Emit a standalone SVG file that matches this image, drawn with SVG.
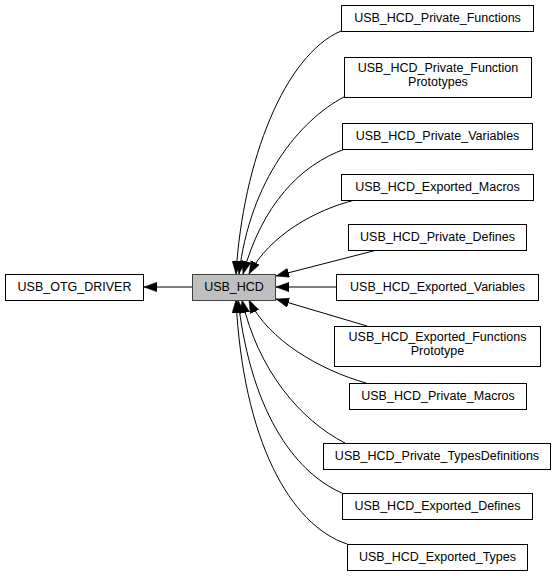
<svg xmlns="http://www.w3.org/2000/svg" width="559" height="576" viewBox="0 0 559 576">
<style>
  rect { fill: #ffffff; stroke: #000000; stroke-width: 1; }
  .cur rect { fill: #bfbfbf; stroke: #404040; }
  text { font-family: "Liberation Sans", Arial, sans-serif; font-size: 12.5px; fill: #000000; text-anchor: middle; }
  .edges path { fill: none; stroke: #000000; stroke-width: 1; marker-end: url(#arrow); }
</style>
<defs>
  <marker id="arrow" markerUnits="userSpaceOnUse" markerWidth="14" markerHeight="10" refX="13" refY="4.7" orient="auto">
    <path d="M0,0 L13,4.7 L0,9.4 z" fill="#000000" stroke="#000000" stroke-width="0.5"/>
  </marker>
</defs>
<rect x="0" y="0" width="559" height="576" style="fill:#ffffff;stroke:none"/>
<g id="edges" class="edges">
  <path d="M192,287 L144,287"/>
  <path d="M341,31 C285,55 243,160 236,274"/>
  <path d="M344,97 C300,120 250,180 239,274"/>
  <path d="M345,149 C300,165 262,205 243,274"/>
  <path d="M355,200 C315,210 270,235 249,274"/>
  <path d="M377,250 L276,276"/>
  <path d="M336,287 L276,287"/>
  <path d="M367,326 L276,299"/>
  <path d="M366,383 C320,370 268,340 249,300"/>
  <path d="M345,443 C300,420 258,370 242,300"/>
  <path d="M342,493 C300,475 252,420 238,300"/>
  <path d="M347,544 C290,525 243,440 236,300"/>
</g>
<g id="node_otg"><rect x="5.5" y="274.5" width="138" height="26"/><text x="74.5" y="291">USB_OTG_DRIVER</text></g>
<g id="node_hcd" class="cur"><rect x="192.5" y="274.5" width="83" height="26"/><text x="234" y="291">USB_HCD</text></g>
<g id="node_pf"><rect x="341.5" y="5.5" width="192" height="26"/><text x="437.5" y="22">USB_HCD_Private_Functions</text></g>
<g id="node_pfp"><rect x="344.5" y="57.5" width="187" height="40"/><text x="438" y="71.5">USB_HCD_Private_Function</text><text x="438" y="85.5">Prototypes</text></g>
<g id="node_pv"><rect x="342.5" y="123.5" width="190" height="26"/><text x="437.5" y="140">USB_HCD_Private_Variables</text></g>
<g id="node_em"><rect x="341.5" y="174.5" width="192" height="26"/><text x="437.5" y="191">USB_HCD_Exported_Macros</text></g>
<g id="node_pd"><rect x="348.5" y="224.5" width="178" height="26"/><text x="437.5" y="241">USB_HCD_Private_Defines</text></g>
<g id="node_ev"><rect x="336.5" y="274.5" width="202" height="26"/><text x="437.5" y="291">USB_HCD_Exported_Variables</text></g>
<g id="node_efp"><rect x="334.5" y="326.5" width="206" height="40"/><text x="437.5" y="340.5">USB_HCD_Exported_Functions</text><text x="437.5" y="354.5">Prototype</text></g>
<g id="node_pm"><rect x="349.5" y="383.5" width="177" height="26"/><text x="438" y="400">USB_HCD_Private_Macros</text></g>
<g id="node_ptd"><rect x="323.5" y="443.5" width="227" height="26"/><text x="437" y="460">USB_HCD_Private_TypesDefinitions</text></g>
<g id="node_ed"><rect x="342.5" y="493.5" width="190" height="26"/><text x="437.5" y="510">USB_HCD_Exported_Defines</text></g>
<g id="node_et"><rect x="347.5" y="544.5" width="180" height="26"/><text x="437.5" y="561">USB_HCD_Exported_Types</text></g>
</svg>
